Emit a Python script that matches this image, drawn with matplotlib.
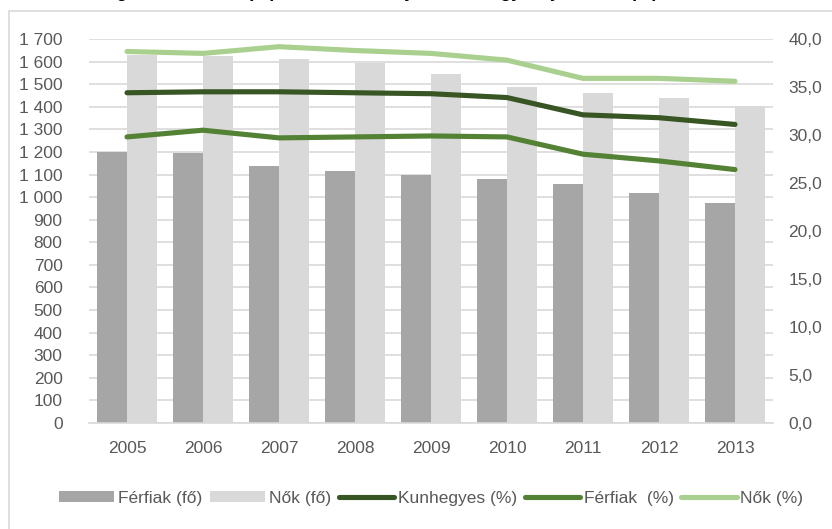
import matplotlib
matplotlib.use("Agg")
import matplotlib.pyplot as plt
from matplotlib.patches import Rectangle
from matplotlib.ticker import FuncFormatter, MultipleLocator
import numpy as np

plt.rcParams['font.family'] = ['Liberation Sans', 'DejaVu Sans']

years = ['2005', '2006', '2007', '2008', '2009', '2010', '2011', '2012', '2013']
ferfiak_fo = [1200, 1194, 1139, 1115, 1098, 1079, 1057, 1018, 972]
nok_fo = [1631, 1626, 1613, 1592, 1545, 1486, 1461, 1440, 1404]
kunhegyes_pct = [34.4, 34.5, 34.5, 34.4, 34.3, 33.9, 32.1, 31.8, 31.1]
ferfiak_pct = [29.8, 30.5, 29.7, 29.8, 29.9, 29.8, 28.0, 27.3, 26.4]
nok_pct = [38.7, 38.5, 39.2, 38.8, 38.5, 37.8, 35.9, 35.9, 35.6]

W, H = 832, 529
fig = plt.figure(figsize=(W / 100, H / 100), dpi=100)
fig.patch.set_facecolor('white')

# chart frame (open to the right and bottom)
fig.patches.append(Rectangle((9 / W, -0.1), 1.2, 1 - 11 / H + 0.1,
                             transform=fig.transFigure, fill=False,
                             edgecolor='#d9d9d9', linewidth=1.2))

# title sits above the frame, only its lowest strokes fall inside the canvas
fig.text(370 / W, 1 + 3 / H,
         'A foglalkoztatottak (fő) száma és aránya a Kunhegyesi járásban (%)',
         ha='center', va='baseline', fontsize=13, fontweight='bold', color='#000000')

left, right, bottom, top = 89 / W, 773 / W, 1 - 423 / H, 1 - 39 / H
ax = fig.add_axes([left, bottom, right - left, top - bottom])
ax2 = ax.twinx()

x = np.arange(len(years))
bw = 30 / 76
text_c = '#595959'
fs = 12.5

b1 = ax.bar(x - bw / 2, ferfiak_fo, width=bw, color='#a6a6a6', zorder=2, label='Férfiak (fő)')
b2 = ax.bar(x + bw / 2, nok_fo, width=bw, color='#d9d9d9', zorder=2, label='Nők (fő)')

ax.set_xlim(-0.5, len(years) - 0.5)
ax.set_ylim(0, 1700)
ax.yaxis.set_major_locator(MultipleLocator(100))
ax.yaxis.set_major_formatter(FuncFormatter(lambda v, p: f'{int(v):,}'.replace(',', ' ')))
ax.grid(axis='y', color='#d9d9d9', linewidth=1.2, zorder=0)
ax.set_axisbelow(True)
ax.set_xticks(x)
ax.set_xticklabels(years)
for s in ['top', 'right', 'left']:
    ax.spines[s].set_visible(False)
ax.spines['bottom'].set_color('#d9d9d9')
ax.spines['bottom'].set_linewidth(1.2)
ax.tick_params(axis='both', length=0, labelsize=fs, colors=text_c)
ax.tick_params(axis='y', pad=19)
ax.tick_params(axis='x', pad=13)

lw = 3.7
l1, = ax2.plot(x, kunhegyes_pct, color='#375623', lw=lw, solid_capstyle='round',
               solid_joinstyle='round', label='Kunhegyes (%)')
l2, = ax2.plot(x, ferfiak_pct, color='#548235', lw=lw, solid_capstyle='round',
               solid_joinstyle='round', label='Férfiak  (%)')
l3, = ax2.plot(x, nok_pct, color='#a9d08e', lw=lw, solid_capstyle='round',
               solid_joinstyle='round', label='Nők (%)')
ax2.set_ylim(0, 40)
ax2.yaxis.set_major_locator(MultipleLocator(5))
ax2.yaxis.set_major_formatter(FuncFormatter(lambda v, p: f'{v:.1f}'.replace('.', ',')))
for s in ['top', 'right', 'left', 'bottom']:
    ax2.spines[s].set_visible(False)
ax2.tick_params(axis='y', length=0, labelsize=fs, colors=text_c, pad=11)

handles = [b1, b2, l1, l2, l3]
labels = [h.get_label() for h in handles]
leg = fig.legend(handles, labels, loc='center', bbox_to_anchor=(431 / W, 1 - 498 / H),
                 ncol=5, frameon=False, fontsize=fs, handlelength=3.2, handleheight=0.6,
                 handletextpad=0.2, columnspacing=0.45, borderaxespad=0)
for t in leg.get_texts():
    t.set_color(text_c)

fig.savefig('out.png', dpi=100, facecolor='white')
